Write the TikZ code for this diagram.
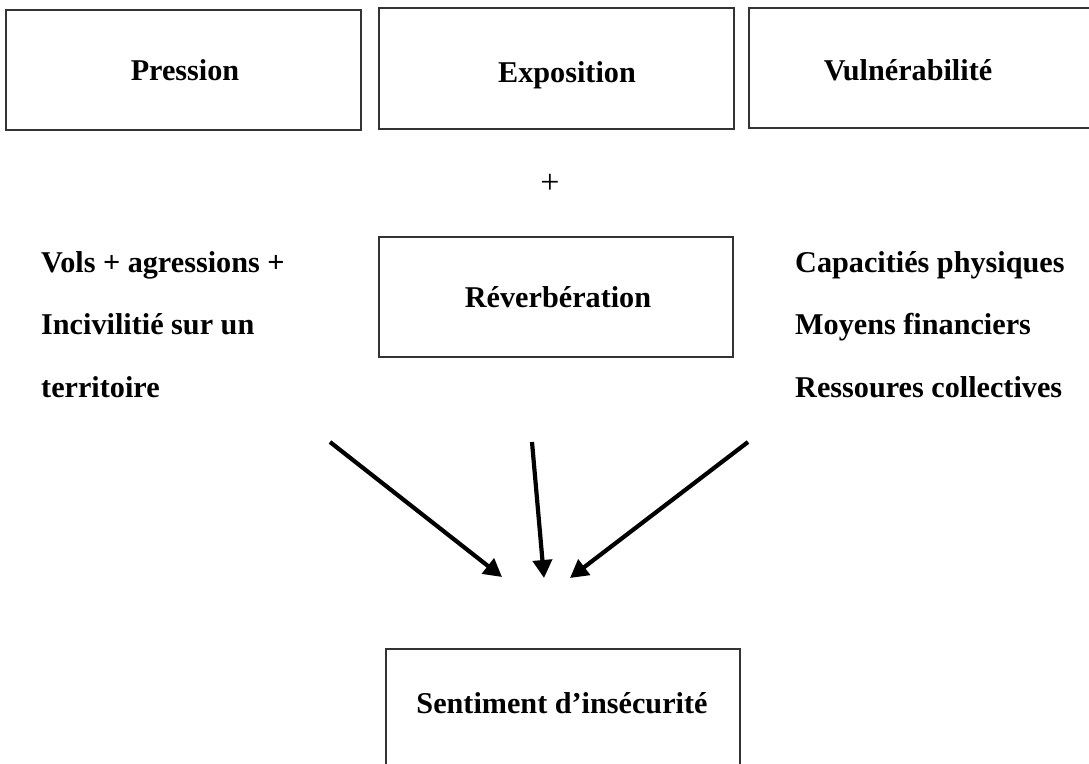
\documentclass[tikz,border=0pt]{standalone}
\usepackage{fontspec}
\setmainfont{Liberation Serif}
\usetikzlibrary{arrows.meta}
\tikzset{
  box/.style={draw=black!80, line width=1.8pt, fill=none, inner sep=0pt},
  lbl/.style={inner sep=0pt, font=\fontsize{30.2}{36}\selectfont\bfseries},
  plain/.style={inner sep=0pt, font=\fontsize{34}{40}\selectfont},
  arr/.style={line width=4.2pt, -{Triangle[length=18pt,width=19pt]}, shorten >=0pt}
}
\begin{document}
\begin{tikzpicture}[x=1pt,y=-1pt]
\clip (0,0) rectangle (1089,763);
\fill[white] (0,0) rectangle (1089,763);
% top boxes
\node[box, minimum width=355pt, minimum height=120pt] (pression) at (183.5,70) {};
\node[box, minimum width=355pt, minimum height=121pt] (exposition) at (556.5,68.5) {};
\node[box, minimum width=360pt, minimum height=120pt, anchor=west] (vulner) at (748,68) {};
\node[lbl, anchor=base] (tpression) at (185,80) {Pression};
\node[lbl, anchor=base] (texposition) at (567,82) {Exposition};
\node[lbl, anchor=base] (tvulner) at (908,80) {Vulnérabilité};
% plus
\node[plain] (plus) at (550,184) {+};
% middle
\node[box, minimum width=354pt, minimum height=120pt] (reverb) at (556,297) {};
\node[lbl, anchor=base] (treverb) at (558,307) {Réverbération};
\node[lbl, anchor=base west] (l1) at (41,272) {Vols + agressions +};
\node[lbl, anchor=base west] (l2) at (41,334) {Incivilitié sur un};
\node[lbl, anchor=base west] (l3) at (41,397) {territoire};
\node[lbl, anchor=base west] (r1) at (795,272) {Capacitiés physiques};
\node[lbl, anchor=base west] (r2) at (795,334) {Moyens financiers};
\node[lbl, anchor=base west] (r3) at (795,397) {Ressoures collectives};
% arrows
\coordinate (a1s) at (330,442);
\coordinate (a1e) at (502,577);
\coordinate (a2s) at (532,442);
\coordinate (a2e) at (544,578);
\coordinate (a3s) at (748,442);
\coordinate (a3e) at (570,578);
\draw[arr] (a1s) -- (a1e);
\draw[arr] (a2s) -- (a2e);
\draw[arr] (a3s) -- (a3e);
% bottom
\node[box, minimum width=354pt, minimum height=140pt, anchor=north] (sentiment) at (563,648) {};
\node[lbl, anchor=base] (tsentiment) at (562,713) {Sentiment d’insécurité};
\end{tikzpicture}
\end{document}
